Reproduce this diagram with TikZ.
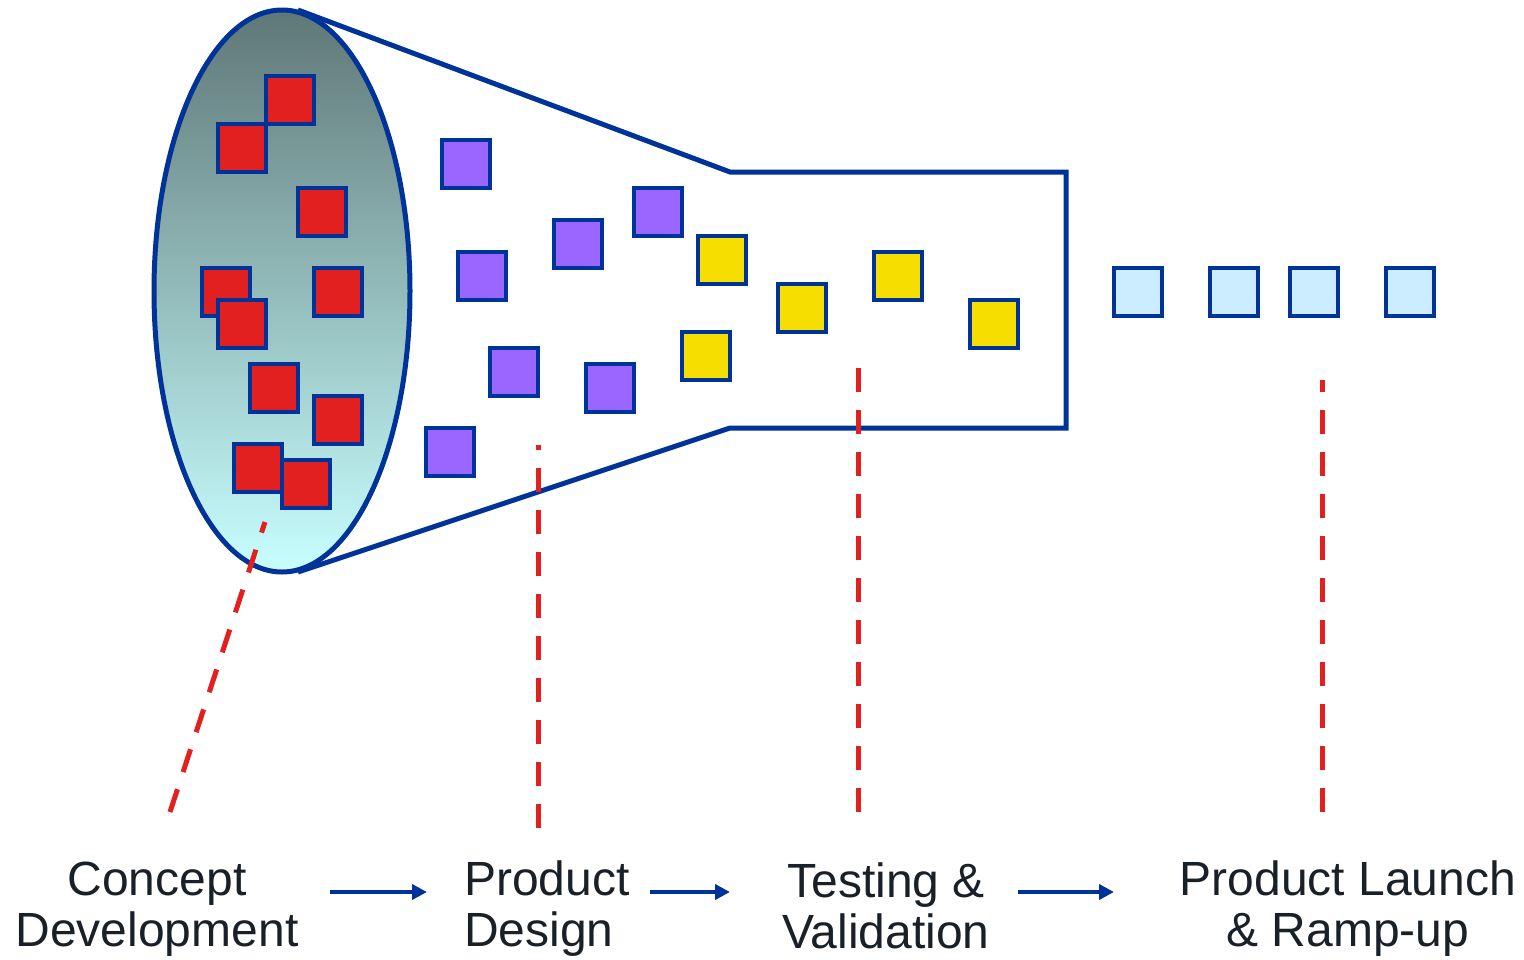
\documentclass[tikz,border=0pt]{standalone}
\usepackage{fontspec}
\setmainfont{Liberation Sans}
\usetikzlibrary{arrows.meta,shapes.geometric}

\definecolor{frame}{RGB}{0,51,153}
\definecolor{idea}{RGB}{227,32,32}
\definecolor{design}{RGB}{153,102,255}
\definecolor{test}{RGB}{245,222,0}
\definecolor{launch}{RGB}{204,236,255}
\definecolor{stage}{RGB}{227,32,32}
\definecolor{ink}{RGB}{26,32,40}
\definecolor{pooltop}{RGB}{95,119,119}
\definecolor{poolbot}{RGB}{200,255,255}

\begin{document}
\begin{tikzpicture}[x=1pt,y=-1pt,
  item/.style={draw=frame, line width=4pt, minimum size=48pt, inner sep=0pt, outer sep=0pt},
  ideabox/.style={item, fill=idea},
  designbox/.style={item, fill=design},
  testbox/.style={item, fill=test},
  launchbox/.style={item, fill=launch},
  wall/.style={draw=frame, line width=5pt, line join=miter},
  stageline/.style={draw=stage, line width=5pt, dash pattern=on 24pt off 18pt},
  flow/.style={draw=frame, line width=4pt, -{Triangle[length=15pt,width=15pt]}},
  label/.style={text=ink, font=\fontsize{48}{51}\selectfont, align=center, inner sep=0pt}
]
\useasboundingbox (0,0) rectangle (1524,959);

% idea pool at the funnel mouth
\node[ellipse, minimum width=256pt, minimum height=562pt, inner sep=0pt,
      top color=pooltop, bottom color=poolbot] (pool) at (282,291) {};
\draw[draw=frame, line width=5pt, line join=round, line cap=round]
  (pool.center) ellipse [x radius=128, y radius=281];

% funnel walls and the narrow channel
\coordinate (mouthT) at (298,10);
\coordinate (mouthB) at (298,572);
\coordinate (neckT) at (730,172);
\coordinate (neckB) at (730,428);
\coordinate (endT) at (1066,172);
\coordinate (endB) at (1066,428);
\draw[wall] (mouthT) -- (neckT) -- (endT) -- (endB) -- (neckB) -- (mouthB);

% concept ideas
\node[ideabox] (r1) at (290,100) {};
\node[ideabox] (r2) at (242,148) {};
\node[ideabox] (r3) at (322,212) {};
\node[ideabox] (r4) at (226,292) {};
\node[ideabox] (r5) at (242,324) {};
\node[ideabox] (r6) at (338,292) {};
\node[ideabox] (r7) at (274,388) {};
\node[ideabox] (r8) at (338,420) {};
\node[ideabox] (r9) at (258,468) {};
\node[ideabox] (r10) at (306,484) {};

% designs
\node[designbox] (p1) at (466,164) {};
\node[designbox] (p2) at (482,276) {};
\node[designbox] (p3) at (578,244) {};
\node[designbox] (p4) at (658,212) {};
\node[designbox] (p5) at (514,372) {};
\node[designbox] (p6) at (610,388) {};
\node[designbox] (p7) at (450,452) {};

% prototypes under test
\node[testbox] (y1) at (722,260) {};
\node[testbox] (y2) at (706,356) {};
\node[testbox] (y3) at (802,308) {};
\node[testbox] (y4) at (898,276) {};
\node[testbox] (y5) at (994,324) {};

% launched products
\node[launchbox] (b1) at (1138,292) {};
\node[launchbox] (b2) at (1234,292) {};
\node[launchbox] (b3) at (1314,292) {};
\node[launchbox] (b4) at (1410,292) {};

% stage labels
\node[label] (cd) at (157,909) {Concept\\Development};
\node[label, align=left, anchor=west] (pd) at (464,909) {Product\\Design};
\node[label] (tv) at (886,906) {Testing \&\\Validation};
\node[label] (pl) at (1348,909) {Product Launch\\\& Ramp-up};

% stage markers
\coordinate (cdA) at (170,812);  \coordinate (cdB) at (265,522);
\coordinate (pdA) at (538,828);  \coordinate (pdB) at (538,445);
\coordinate (tvA) at (858,812);  \coordinate (tvB) at (858,368);
\coordinate (plA) at (1322,812); \coordinate (plB) at (1322,380);
\draw[stageline] (cdA) -- (cdB);
\draw[stageline] (pdA) -- (pdB);
\draw[stageline] (tvA) -- (tvB);
\draw[stageline] (plA) -- (plB);

% process flow
\coordinate (f1a) at (330,892); \coordinate (f1b) at (427,892);
\coordinate (f2a) at (650,892); \coordinate (f2b) at (730,892);
\coordinate (f3a) at (1018,892); \coordinate (f3b) at (1114,892);
\draw[flow] (f1a) -- (f1b);
\draw[flow] (f2a) -- (f2b);
\draw[flow] (f3a) -- (f3b);
\end{tikzpicture}
\end{document}
